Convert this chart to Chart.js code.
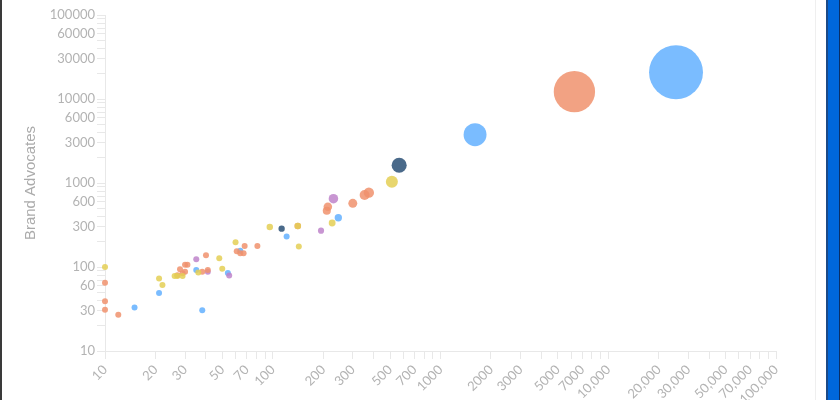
<!doctype html>
<html lang="en">
<head>
  <meta charset="UTF-8">
  <title>Brand Advocates</title>
  <script src="https://cdn.jsdelivr.net/npm/chart.js@4.4.0/dist/chart.umd.min.js"></script>
  <style>
    html, body { margin: 0; padding: 0; background: #fff; overflow: hidden; }
    #wrap { position: absolute; left: 0; top: 0; width: 816px; height: 400px; }
    #edgeL { position: absolute; left: 0; top: 0; width: 2px; height: 400px; background: #3a3a3a; }
    #cardR { position: absolute; left: 815px; top: 0; width: 1px; height: 400px; background: #efefef; }
    #barR { position: absolute; left: 826px; top: 0; width: 14px; height: 400px; background: #0067db;
            border-left: 2px solid #1d4a86; border-right: 1px solid #0b2f66; box-sizing: border-box; }
  </style>
</head>
<body>
  <div id="wrap"><canvas id="canvas" width="816" height="400"></canvas></div>
  <div id="edgeL"></div>
  <div id="cardR"></div>
  <div id="barR"></div>
  <script>
    // values (x = reach, y = brand advocates)
    const blueX   = [15, 21, 38, 35, 54, 64, 121, 246, 1607, 25350];
    const blueY   = [33, 49, 30.5, 92, 85, 156, 230, 386, 3758, 20800];
    const orangeX = [10, 10, 10, 12, 28, 29, 27, 30, 31, 30, 40, 38, 41, 61, 64, 67, 68, 81, 141, 213, 210, 300, 374, 353, 6285];
    const orangeY = [65, 39, 31, 27, 94, 84, 80, 106, 106, 88, 138, 88, 92, 154, 146, 146, 178, 178, 308, 522, 468, 573, 767, 720, 12220];
    const yellowX = [10, 21, 22, 26, 27, 29, 36, 48, 50, 60, 96, 141, 143, 226, 513];
    const yellowY = [100, 73, 61, 78, 78, 78, 86, 127, 95, 197, 299, 308, 175, 334, 1037];
    const purpleX = [35, 41, 55, 194, 230];
    const purpleY = [124, 88, 79, 271, 650];
    const navyX   = [113, 567];
    const navyY   = [286, 1626];

    const xLabels = [10, 20, 30, 50, 70, 100, 200, 300, 500, 700, 1000, 2000, 3000, 5000, 7000,
                     10000, 20000, 30000, 50000, 70000, 100000];
    const yLabels = [10, 30, 60, 100, 300, 600, 1000, 3000, 6000, 10000, 30000, 60000, 100000];

    const pts = (xs, ys) => xs.map((x, i) => ({ x: x, y: ys[i] }));

    // log ticks at 1..9 x 10^k
    const logTicks = scale => {
      const t = [];
      for (let e = 1; e <= 5; e++) {
        for (let m = 1; m <= 9; m++) {
          const v = m * Math.pow(10, e);
          if (v <= 100000) t.push({ value: v });
        }
      }
      scale.ticks = t;
    };

    const tickFont = { family: 'Lato', size: 13 };
    const gray = '#b3b3b3';
    const line = '#e8e8e8';

    const ds = (xs, ys, color) => ({
      data: pts(xs, ys),
      backgroundColor: color,
      borderWidth: 0,
      clip: false,
      radius: ctx => Math.max(3, 0.187 * Math.sqrt(ctx.raw.y))
    });

    new Chart(document.getElementById('canvas'), {
      type: 'bubble',
      data: {
        datasets: [
          ds(yellowX, yellowY, 'rgba(228,207,85,0.85)'),
          ds(orangeX, orangeY, 'rgba(240,146,109,0.85)'),
          ds(purpleX, purpleY, 'rgba(190,132,202,0.85)'),
          ds(blueX, blueY, 'rgba(99,176,255,0.85)'),
          ds(navyX, navyY, 'rgba(42,80,117,0.85)')
        ]
      },
      options: {
        responsive: false,
        animation: false,
        layout: { autoPadding: false, padding: { top: 15, right: 40, left: 0, bottom: 0 } },
        plugins: { legend: { display: false }, tooltip: { enabled: false } },
        scales: {
          x: {
            type: 'logarithmic',
            min: 10,
            max: 100000,
            afterBuildTicks: logTicks,
            afterFit: s => { s.height = 49; },
            border: { display: true, color: line },
            grid: { drawOnChartArea: false, drawTicks: true, tickLength: 8, color: line },
            ticks: {
              autoSkip: false,
              minRotation: 45,
              maxRotation: 45,
              padding: 3,
              color: gray,
              font: tickFont,
              callback: v => xLabels.includes(v) ? (v >= 10000 ? v.toLocaleString('en-US') : String(v)) : ''
            }
          },
          y: {
            type: 'logarithmic',
            min: 10,
            max: 100000,
            afterBuildTicks: logTicks,
            afterFit: s => { s.width = 105; },
            border: { display: true, color: line },
            grid: { drawOnChartArea: false, drawTicks: true, tickLength: 8, color: line },
            title: {
              display: true,
              text: 'Brand Advocates',
              color: '#ababab',
              font: { family: 'Liberation Sans', size: 15 },
              padding: { top: 22, bottom: 0 }
            },
            ticks: {
              autoSkip: false,
              padding: 2,
              color: gray,
              font: tickFont,
              callback: v => yLabels.includes(v) ? String(v) : ''
            }
          }
        }
      }
    });
  </script>
</body>
</html>
